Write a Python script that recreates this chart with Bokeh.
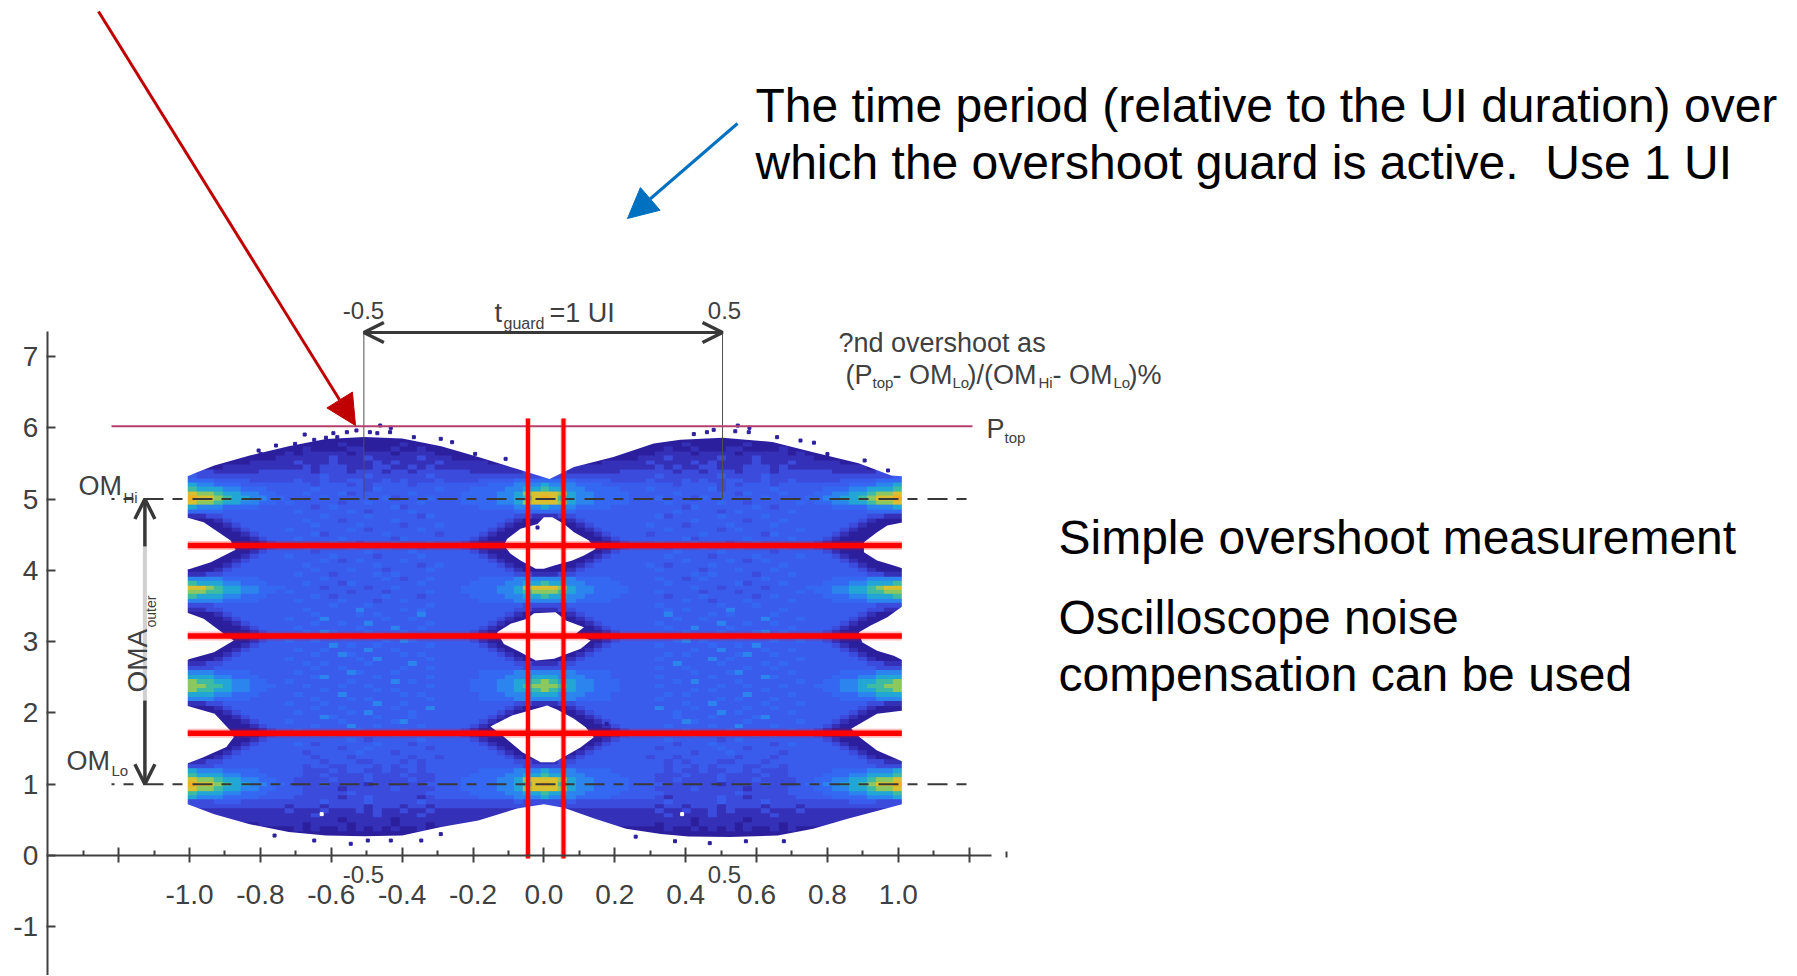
import numpy as np
from bokeh.plotting import figure
from bokeh.embed import file_html
from bokeh.resources import INLINE
from bokeh.core.properties import value
from bokeh.models import Range1d, FixedTicker, LinearColorMapper, Arrow, NormalHead, OpenHead

# --- axis ticks ---
x_major = [-1.2, -1.0, -0.8, -0.6, -0.4, -0.2, 0.0, 0.2, 0.4, 0.6, 0.8, 1.0, 1.2]
x_minor = [-1.3, -1.1, -0.9, -0.7, -0.5, -0.3, -0.1, 0.1, 0.3, 0.5, 0.7, 0.9, 1.1]
x_labels = {-1.2: "", -1.0: "-1.0", -0.8: "-0.8", -0.6: "-0.6", -0.4: "-0.4", -0.2: "-0.2", 0.0: "0.0",
            0.2: "0.2", 0.4: "0.4", 0.6: "0.6", 0.8: "0.8", 1.0: "1.0", 1.2: ""}
y_major = [-1, 0, 1, 2, 3, 4, 5, 6, 7]
y_labels = {v: str(v) for v in y_major}

# --- measured levels ---
om_hi = 5.0
om_lo = 1.0
p_top = 6.02
guard_left = -0.508
guard_right = 0.504
red_h = [4.348, 3.08, 1.715]
red_v = [-0.045, 0.0553]

# --- eye diagram density, estimated by eye. Each row (y = 6.0 to 0.1875, step 0.0625) is
#     a left part (x = -1.0..-0.75), a middle part, a right part (x = -0.275..0), step 0.025.
LEFT = {
    "S0": "BAA98776655", "S1": "A9987766554", "S2": "87776655544", "S3": "76665555444",
    "A0": "AA987766555", "A1": "99887766554", "A2": "87776655544", "A3": "66665555444",
    "N0": "99887665554", "N1": "98877665544", "N2": "77766555444", "N3": "66655554444",
    "F": "55554444444", "G": "33344444444",
    "E6": "22334444444", "E5": "11123444444", "E4": "11112344444", "E3": "11111234444",
    "E2": "11111123444", "E1": "11111112344", "E0": "11111111234",
    "T0": "11111111111", "T1": "11111111112", "T2": "11111112222", "T3": "11112222222",
    "T4": "33322222333", "T5": "43333333333", "T6": "55544443333", "T7": "76655544444",
    "U0": "33344433333", "U1": "33333333333", "U2": "22222222222", "U3": "11122222222",
    "U4": "11111111222",
}
RIGHT = {
    "S0": "4455556678AB", "S1": "4455556679AA", "S2": "444555566778", "S3": "444455556667",
    "A0": "4455556679AA", "A1": "445555667899", "A2": "444555566778", "A3": "444455556666",
    "N0": "444555667899", "N1": "444555667789", "N2": "444455566677", "N3": "444455556666",
    "F": "444444445555", "G": "444444444333",
    "E6": "444444443322", "E5": "444444432111", "E4": "444444321111", "E3": "444443211111",
    "E2": "444432111111", "E1": "444321111111", "E0": "443211111111",
    "T0": "111111111111", "T1": "211111111111", "T2": "222221111111", "T3": "222222222111",
    "T4": "333222222333", "T5": "333333333334", "T6": "333344445555", "T7": "444445556667",
    "U0": "333333334333", "U1": "333333333333", "U2": "222222222222", "U3": "222222221111",
    "U4": "222221111111",
}
density_rows = [
    ("T0", "111111111111111111"), ("T0", "111111111111111111"), ("T0", "111111111111111111"),
    ("T0", "111111111111111111"), ("T0", "111111211111121111"), ("T0", "112111122111211211"),
    ("T0", "212222212222122221"), ("T1", "222223222322222322"), ("T2", "232223222232322223"),
    ("T3", "223233322233223232"), ("T4", "333233323332332333"), ("T5", "333343333433333343"),
    ("T6", "343343344334343334"), ("T7", "444344434344443444"),
    ("S2", "444544444354444445"), ("S1", "445444534444445444"), ("S0", "444454444445344454"),
    ("S1", "544444344544444544"), ("S3", "444345444444534444"), ("F", "454444454344445444"),
    ("E6", "444454444544444354"),
    ("E5", "445444344444544444"), ("E4", "444544445444434445"), ("E3", "544444454344444544"),
    ("E2", "444534444445444443"), ("E1", "454444544444354444"), ("E0", "444445443444544454"),
    ("E0", "445444454445444344"), ("E1", "444344444544445444"), ("E2", "544445444434444544"),
    ("E3", "444454345444454444"), ("E4", "445444444454444345"), ("E5", "444544454443444454"),
    ("E6", "454443444454544444"),
    ("A3", "444454444445434454"), ("A2", "445444354444444544"), ("A0", "444434444344544444"),
    ("A1", "544444434443444454"), ("A2", "444543444445444344"), ("A3", "454444544434454444"),
    ("G", "444445444544444454"), ("E6", "445444446444454544"),
    ("E5", "444544445454444644"), ("E4", "544464444445445444"), ("E3", "444544544644444454"),
    ("E2", "454444445444644544"), ("E1", "445465444544454444"), ("E0", "444444564454444544"),
    ("E1", "544544444445465444"), ("E2", "444446454454444454"), ("E3", "454454444644544444"),
    ("E4", "444544654444454544"), ("E5", "544444445464444454"), ("E6", "445454444544446444"),
    ("G", "444544544444454454"), ("N3", "454444465444544444"), ("N2", "444564444454444454"),
    ("N1", "544444454444645444"), ("N0", "445444544544444454"), ("N1", "444454444454544444"),
    ("N2", "454444644444454544"), ("N3", "444544454544444454"), ("E6", "544454444464454444"),
    ("E5", "444544544444544464"), ("E4", "454444454644445444"), ("E3", "444465444454445444"),
    ("E2", "544444544444564444"), ("E1", "444544464454444544"), ("E0", "454444445444454444"),
    ("E0", "444545444444544454"), ("E1", "444444454344444544"), ("E2", "454344444454443444"),
    ("E3", "444444344544444434"), ("E4", "443444445444344444"), ("E5", "444344434444443443"),
    ("E6", "444434443344434344"),
    ("G", "443443344434344344"), ("S3", "443334344334334344"), ("S2", "443343333433343334"),
    ("S1", "433334333433334334"), ("S0", "433343333233333344"), ("S1", "443333233333433334"),
    ("S2", "443333343333333344"), ("S3", "433333233433333234"),
    ("U0", "333343333433333433"), ("U1", "233323333233323323"), ("U2", "322232223232232232"),
    ("U2", "222322222232222322"), ("U3", "222222122222122222"), ("U4", "221222212222122212"),
    ("T0", "121211212121211211"), ("T0", "111111111111111111"), ("T0", "111111111111111111"),
    ("T0", "111111111111111111"),
]
palette = ["#2b1f9e", "#3530b8", "#3b4bdc", "#3a5cec", "#3568f2", "#2c84ee",
           "#22a6d6", "#3dbca2", "#8cc860", "#d8c030", "#f0ae20"]

# --- outer envelope of the eye ---
top_x = [-1.005, -0.98, -0.93, -0.83, -0.72, -0.615, -0.507, -0.4, -0.29, -0.185, -0.075, -0.043,
         0.016, 0.085, 0.196, 0.31, 0.385, 0.504, 0.645, 0.757, 0.888, 0.98, 1.01]
top_y = [5.32, 5.37, 5.47, 5.61, 5.74, 5.84, 5.87, 5.85, 5.74, 5.59, 5.42, 5.37,
         5.28, 5.45, 5.59, 5.78, 5.83, 5.86, 5.80, 5.66, 5.5, 5.33, 5.32]
bot_x = [-1.005, -0.93, -0.83, -0.72, -0.615, -0.507, -0.4, -0.29, -0.185, -0.075, 0.0, 0.056, 0.144,
         0.232, 0.33, 0.408, 0.525, 0.66, 0.76, 0.857, 0.945, 1.01]
bot_y = [0.72, 0.58, 0.44, 0.33, 0.28, 0.27, 0.28, 0.40, 0.49, 0.66, 0.72, 0.668, 0.514,
         0.374, 0.303, 0.267, 0.26, 0.28, 0.374, 0.514, 0.631, 0.72]

# --- eye openings ---
eye_xs = [
    [-0.113, -0.104, -0.066, -0.018, 0.0, 0.024, 0.057, 0.085, 0.127, 0.146, 0.113, 0.080, 0.029, 0.0, -0.023, -0.066, -0.094],
    [-0.132, -0.094, -0.047, -0.028, 0.033, 0.062, 0.113, 0.090, 0.132, 0.104, 0.066, 0.029, -0.023, -0.066, -0.113],
    [-0.151, -0.09, -0.023, 0.009, 0.038, 0.085, 0.118, 0.141, 0.104, 0.071, 0.029, -0.009, -0.061, -0.123],
    [-1.01, -0.96, -0.912, -0.884, -0.87, -0.94, -0.997, -1.01],
    [-1.01, -0.96, -0.922, -0.903, -0.875, -0.931, -0.997, -1.01],
    [-1.01, -0.929, -0.885, -0.875, -0.896, -0.961, -1.01],
    [1.015, 0.969, 0.94, 0.903, 0.903, 0.94, 0.987, 1.015],
    [1.015, 0.969, 0.922, 0.889, 0.898, 0.94, 0.987, 1.015],
    [1.015, 0.94, 0.867, 0.891, 0.94, 1.015],
]
eye_ys = [
    [4.348, 4.44, 4.581, 4.651, 4.745, 4.745, 4.651, 4.535, 4.418, 4.30, 4.207, 4.137, 4.067, 4.02, 4.02, 4.137, 4.231],
    [3.132, 3.249, 3.319, 3.398, 3.412, 3.296, 3.203, 3.109, 3.016, 2.899, 2.829, 2.758, 2.735, 2.851, 2.968],
    [1.809, 1.963, 2.057, 2.103, 2.043, 1.917, 1.8, 1.659, 1.519, 1.425, 1.308, 1.308, 1.449, 1.707],
    [4.745, 4.675, 4.511, 4.418, 4.287, 4.113, 4.02, 4.006],
    [3.413, 3.319, 3.179, 3.109, 3.016, 2.852, 2.758, 2.735],
    [2.104, 1.987, 1.753, 1.66, 1.52, 1.379, 1.285],
    [4.675, 4.628, 4.534, 4.394, 4.254, 4.137, 4.067, 4.02],
    [3.506, 3.342, 3.225, 3.131, 2.99, 2.873, 2.803, 2.733],
    [2.034, 1.987, 1.776, 1.659, 1.473, 1.31],
]

# --- isolated hits outside / inside the eye ---
hit_x = [-0.675, -0.594, -0.556, -0.529, -0.491, -0.470, -0.462, -0.432, -0.434, -0.367, -0.291, -0.259, -0.194, -0.108,
         -0.648, -0.615, -0.583, -0.756, -0.702, -0.805, -0.799,
         0.547, 0.580, 0.578, 0.54, 0.479, 0.423, 0.460, 0.658, 0.724, 0.762, 0.80, 0.905, 0.971,
         -0.545, -0.648, -0.497, -0.432, -0.346, -0.76, -0.291,
         0.468, 0.370, 0.677, 0.57, 0.259, -0.018, 0.177]
hit_y = [5.904, 5.923, 5.937, 5.961, 5.937, 5.923, 6.031, 5.998, 5.937, 5.867, 5.844, 5.797, 5.633, 5.563,
         5.83, 5.86, 5.867, 5.75, 5.773, 5.68, 5.63,
         6.03, 5.998, 5.937, 5.95, 5.97, 5.91, 5.937, 5.867, 5.82, 5.79, 5.63, 5.54, 5.40,
         0.164, 0.21, 0.21, 0.21, 0.21, 0.28, 0.30,
         0.173, 0.2, 0.2, 0.2, 0.264, 4.6, 1.847]
hole_x = [-0.627, 0.39]
hole_y = [0.58, 0.58]

INK = "#404040"
FONT = "Liberation Sans"

# page pixel -> data, used only to place annotations
def dx(px):
    return (px - 543.4) / 354.4
def dy(py):
    return (855.0 - py) / 71.3

W, H = 1781, 975
p = figure(width=W, height=H, output_backend="svg", toolbar_location=None,
           x_range=Range1d(dx(0), dx(W)), y_range=Range1d(dy(H), dy(0)),
           min_border=0, min_border_left=0, min_border_right=0, min_border_top=0, min_border_bottom=0,
           outline_line_color=None, background_fill_color="white", border_fill_color="white")
p.grid.visible = False

# axes
xa = p.xaxis[0]
xa.fixed_location = 0
xa.bounds = (-1.4015, 1.263)
xa.ticker = FixedTicker(ticks=x_major, minor_ticks=x_minor)
xa.major_label_overrides = x_labels
xa.major_tick_in, xa.major_tick_out = 8, 7
xa.minor_tick_in, xa.minor_tick_out = 5, 0
xa.major_label_standoff = 22
ya = p.yaxis[0]
ya.fixed_location = -1.4015
ya.bounds = (-1.7, 7.35)
ya.ticker = FixedTicker(ticks=y_major)
ya.major_label_overrides = y_labels
ya.major_tick_in, ya.major_tick_out = 8, 1
ya.minor_tick_line_color = None
ya.major_label_standoff = 8
for a in (xa, ya):
    a.axis_line_color = INK
    a.axis_line_width = 2
    a.major_tick_line_color = INK
    a.major_tick_line_width = 2
    a.major_label_text_color = INK
    a.major_label_text_font = FONT
    a.major_label_text_font_size = "28px"
xa.minor_tick_line_color = INK
xa.minor_tick_line_width = 2

# density image (rows mirrored about x = 0)
half = np.array([[int(c, 16) for c in LEFT[k] + body + RIGHT[k]] for k, body in density_rows], dtype=float)
full = np.hstack([half, half[:, -2::-1]])[::-1]
mapper = LinearColorMapper(palette=palette, low=1, high=11)
p.image(image=[full], x=-1.005, y=0.15625, dw=2.015, dh=5.875, color_mapper=mapper)

# white outside the envelope and inside the eye openings
p.patch([-1.1] + top_x + [1.1], [6.4] + top_y + [6.4], fill_color="white", line_color=None)
p.patch([-1.1] + bot_x + [1.1], [0.0] + bot_y + [0.0], fill_color="white", line_color=None)
p.patches(eye_xs, eye_ys, fill_color="white", line_color=None)
p.scatter(hit_x, hit_y, marker="square", size=3, color="#2b1f9e")
p.scatter(hole_x, hole_y, marker="square", size=3, color="white")

# guards and reference lines
for g in (guard_left, guard_right):
    p.line([g, g], [om_hi, dy(333)], line_color="#505050", line_width=1)
p.line([dx(111), dx(972)], [p_top, p_top], line_color="#b5406f", line_width=2)
for lvl in (om_hi, om_lo):
    p.line([dx(111), dx(972)], [lvl, lvl], line_color="#383838", line_width=2, line_dash="20 9 10 10", line_dash_offset=17)

# OMA arrow
oma_x = dx(144.4)
p.line([oma_x, oma_x], [dy(546), dy(700)], line_color="#d0d0d0", line_width=4)
arrow_head = dict(line_color="#383838", line_width=3.5, size=20)
p.add_layout(Arrow(end=OpenHead(**arrow_head), x_start=oma_x, y_start=dy(546), x_end=oma_x, y_end=om_hi,
                   line_color="#383838", line_width=3.5))
p.add_layout(Arrow(end=OpenHead(**arrow_head), x_start=oma_x, y_start=dy(700), x_end=oma_x, y_end=om_lo,
                   line_color="#383838", line_width=3.5))
# t_guard arrow
p.add_layout(Arrow(end=OpenHead(**arrow_head), start=OpenHead(**arrow_head),
                   x_start=guard_left, y_start=dy(332), x_end=guard_right, y_end=dy(332),
                   line_color="#383838", line_width=3))

# red measurement lines
for y in red_h:
    p.line([-1.005, 1.01], [y, y], line_color="#ff0000", line_width=9, line_alpha=0.25)
    p.line([-1.005, 1.01], [y, y], line_color="#ff0000", line_width=5.5)
for x in red_v:
    p.line([x, x], [dy(418), dy(858)], line_color="#ff0000", line_width=6, line_alpha=0.25)
    p.line([x, x], [dy(418), dy(858)], line_color="#ff0000", line_width=4)

# callout arrows
p.add_layout(Arrow(end=NormalHead(size=30, fill_color="#c00000", line_color="#c00000"),
                   x_start=dx(98), y_start=dy(11), x_end=dx(355), y_end=dy(425),
                   line_color="#c00000", line_width=3))
p.add_layout(Arrow(end=NormalHead(size=30, fill_color="#0070c0", line_color="#0070c0"),
                   x_start=dx(737), y_start=dy(123), x_end=dx(627), y_end=dy(218),
                   line_color="#0070c0", line_width=3))

# texts: string, left, baseline, size, colour
BASE = 0.33  # renderer draws "alphabetic" text this many em below the anchor
texts = [
    ("The time period (relative to the UI duration) over", 755, 121, 48, "#000000"),
    ("which the overshoot guard is active.\u00a0 Use 1 UI", 755, 178, 48, "#000000"),
    ("Simple overshoot measurement", 1058, 553, 48, "#000000"),
    ("Oscilloscope noise", 1058, 633, 48, "#000000"),
    ("compensation can be used", 1058, 690, 48, "#000000"),
    ("t", 494, 321, 27, INK), ("guard", 503, 328, 16, INK), ("=1 UI", 549, 321, 27, INK),
    ("?nd overshoot as", 838, 351, 27, INK),
    ("(P", 845, 383, 27, INK), ("top", 872, 387, 15, INK), ("- OM", 892, 383, 27, INK),
    ("Lo", 952, 387, 15, INK), (")/(OM", 967, 383, 27, INK), ("Hi", 1038, 387, 15, INK),
    ("- OM", 1052, 383, 27, INK), ("Lo", 1113, 387, 15, INK), (")%", 1128, 383, 27, INK),
    ("P", 986, 437, 27, INK), ("top", 1004, 442, 15, INK),
    ("OM", 78, 494, 27, INK), ("Hi", 123, 502, 15, INK),
    ("OM", 66, 769, 27, INK), ("Lo", 111, 775, 15, INK),
]
for s, l, b, size, col in texts:
    p.text([dx(l)], [dy(b - BASE * size)], text=[s], text_font=value(FONT), text_font_size=f"{size}px",
           text_color=col, text_align="left", text_baseline="alphabetic")

# centred small labels
for s, c, m in [("-0.5", 363, 310), ("0.5", 724, 310), ("-0.5", 363, 874), ("0.5", 724, 874)]:
    p.text([dx(c)], [dy(m)], text=[s], text_font=value(FONT), text_font_size="24px",
           text_color=INK, text_align="center", text_baseline="middle")

# rotated OMA label
for s, bx, st, size in [("OMA", 146, 692, 28), ("outer", 155, 627, 14)]:
    p.text([dx(bx - BASE * size)], [dy(st)], text=[s], angle=np.pi / 2, text_font=value(FONT), text_font_size=f"{size}px",
           text_color=INK, text_align="left", text_baseline="alphabetic")

# stray tick at the end of the axis
p.line([dx(1006), dx(1006)], [dy(851), dy(857)], line_color=INK, line_width=2)

open("out.html", "w").write(file_html(p, INLINE))
